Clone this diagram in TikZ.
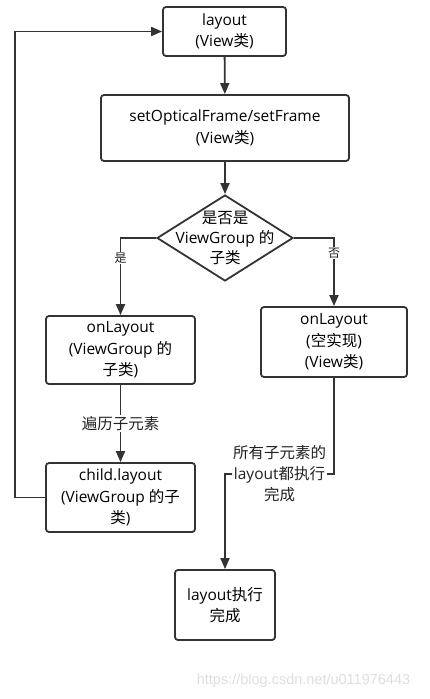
\documentclass[tikz,border=0pt]{standalone}
\usepackage{fontspec}
\setmainfont{Open Sans}
\newfontfamily\cjk{Noto Sans CJK SC}
\newfontfamily\wmfont{Liberation Sans}
\newcommand{\zh}[1]{{\cjk #1}}
\usetikzlibrary{arrows.meta,shapes.geometric}

\tikzset{every picture/.style={line width=1.8pt}}
\tikzset{
  procbox/.style={draw={rgb,255:red,51;green,51;blue,51}, line width=1.8pt, rounded corners=3pt, align=center, inner sep=0pt, font=\fontsize{15.5}{21.5}\selectfont},
  flowline/.style={draw={rgb,255:red,51;green,51;blue,51}, line width=1.8pt, -{Triangle[length=11pt,width=9pt]}},
  edgetext/.style={fill=white, inner sep=1pt, align=center, text={rgb,255:red,34;green,34;blue,34}}
}

\begin{document}
\begin{tikzpicture}[x=1pt,y=1pt,yscale=-1,xscale=1]
\useasboundingbox (0,0) rectangle (430,699);

%Rounded Rect [layout]
\node [procbox, minimum width=123, minimum height=49] (lay) at (224.5,31.5) {layout\\(View\zh{类})};
%Rounded Rect [setOpticalFrame]
\node [procbox, minimum width=248, minimum height=66] (setf) at (225,128) {setOpticalFrame/setFrame\\(View\zh{类})};
%Diamond [is ViewGroup]
\node [draw={rgb,255:red,51;green,51;blue,51}, line width=1.8pt, diamond, minimum width=136, minimum height=86, inner sep=0pt] (isvg) at (225,238) {};
% Text Node
\node [align=center, font=\fontsize{15.5}{20}\selectfont] (isvgtxt) at (isvg) {\zh{是否是}\\ViewGroup \zh{的}\\\zh{子类}};
%Rounded Rect [onLayout left]
\node [procbox, minimum width=149, minimum height=68] (onlg) at (120.5,350) {onLayout\\(ViewGroup \zh{的}\\\zh{子类})};
%Rounded Rect [child.layout]
\node [procbox, minimum width=149, minimum height=69] (chl) at (120.5,497.5) {child.layout\\(ViewGroup \zh{的子}\\\zh{类})};
%Rounded Rect [onLayout right]
\node [procbox, minimum width=146, minimum height=70] (onlv) at (334,342) {onLayout\\(\zh{空实现})\\(View\zh{类})};
%Rounded Rect [layout done]
\node [procbox, minimum width=100, minimum height=70] (done) at (225,605) {layout\zh{执行}\\\zh{完成}};

%Straight Lines
\draw [flowline] (lay) -- (setf);
\draw [flowline] (setf) -- (isvg);
\draw [flowline] (isvg.west) -| node [edgetext, pos=0.63, font=\cjk\fontsize{12}{14}\selectfont] {是} (onlg.north);
\draw [flowline] (isvg.east) -| node [edgetext, pos=0.61, font=\cjk\fontsize{12}{14}\selectfont] {否} (onlv.north);
\draw [flowline] (onlg) -- node [edgetext, font=\cjk\fontsize{15.5}{20}\selectfont] {遍历子元素} (chl);
\draw [flowline] (chl.west) -- ++(-30,0) |- (lay.west);
\draw [flowline] (onlv.south) -- ++(0,96) -| node [edgetext, pos=0.25, font=\fontsize{15.5}{21}\selectfont] {\zh{所有子元素的}\\layout\zh{都执行}\\\zh{完成}} (done.north);

% Text Node
\node [text={rgb,255:red,222;green,222;blue,222}, font=\wmfont\fontsize{14.5}{16}\selectfont] (wmark) at (303.5,681) {https://blog.csdn.net/u011976443};

\end{tikzpicture}
\end{document}
